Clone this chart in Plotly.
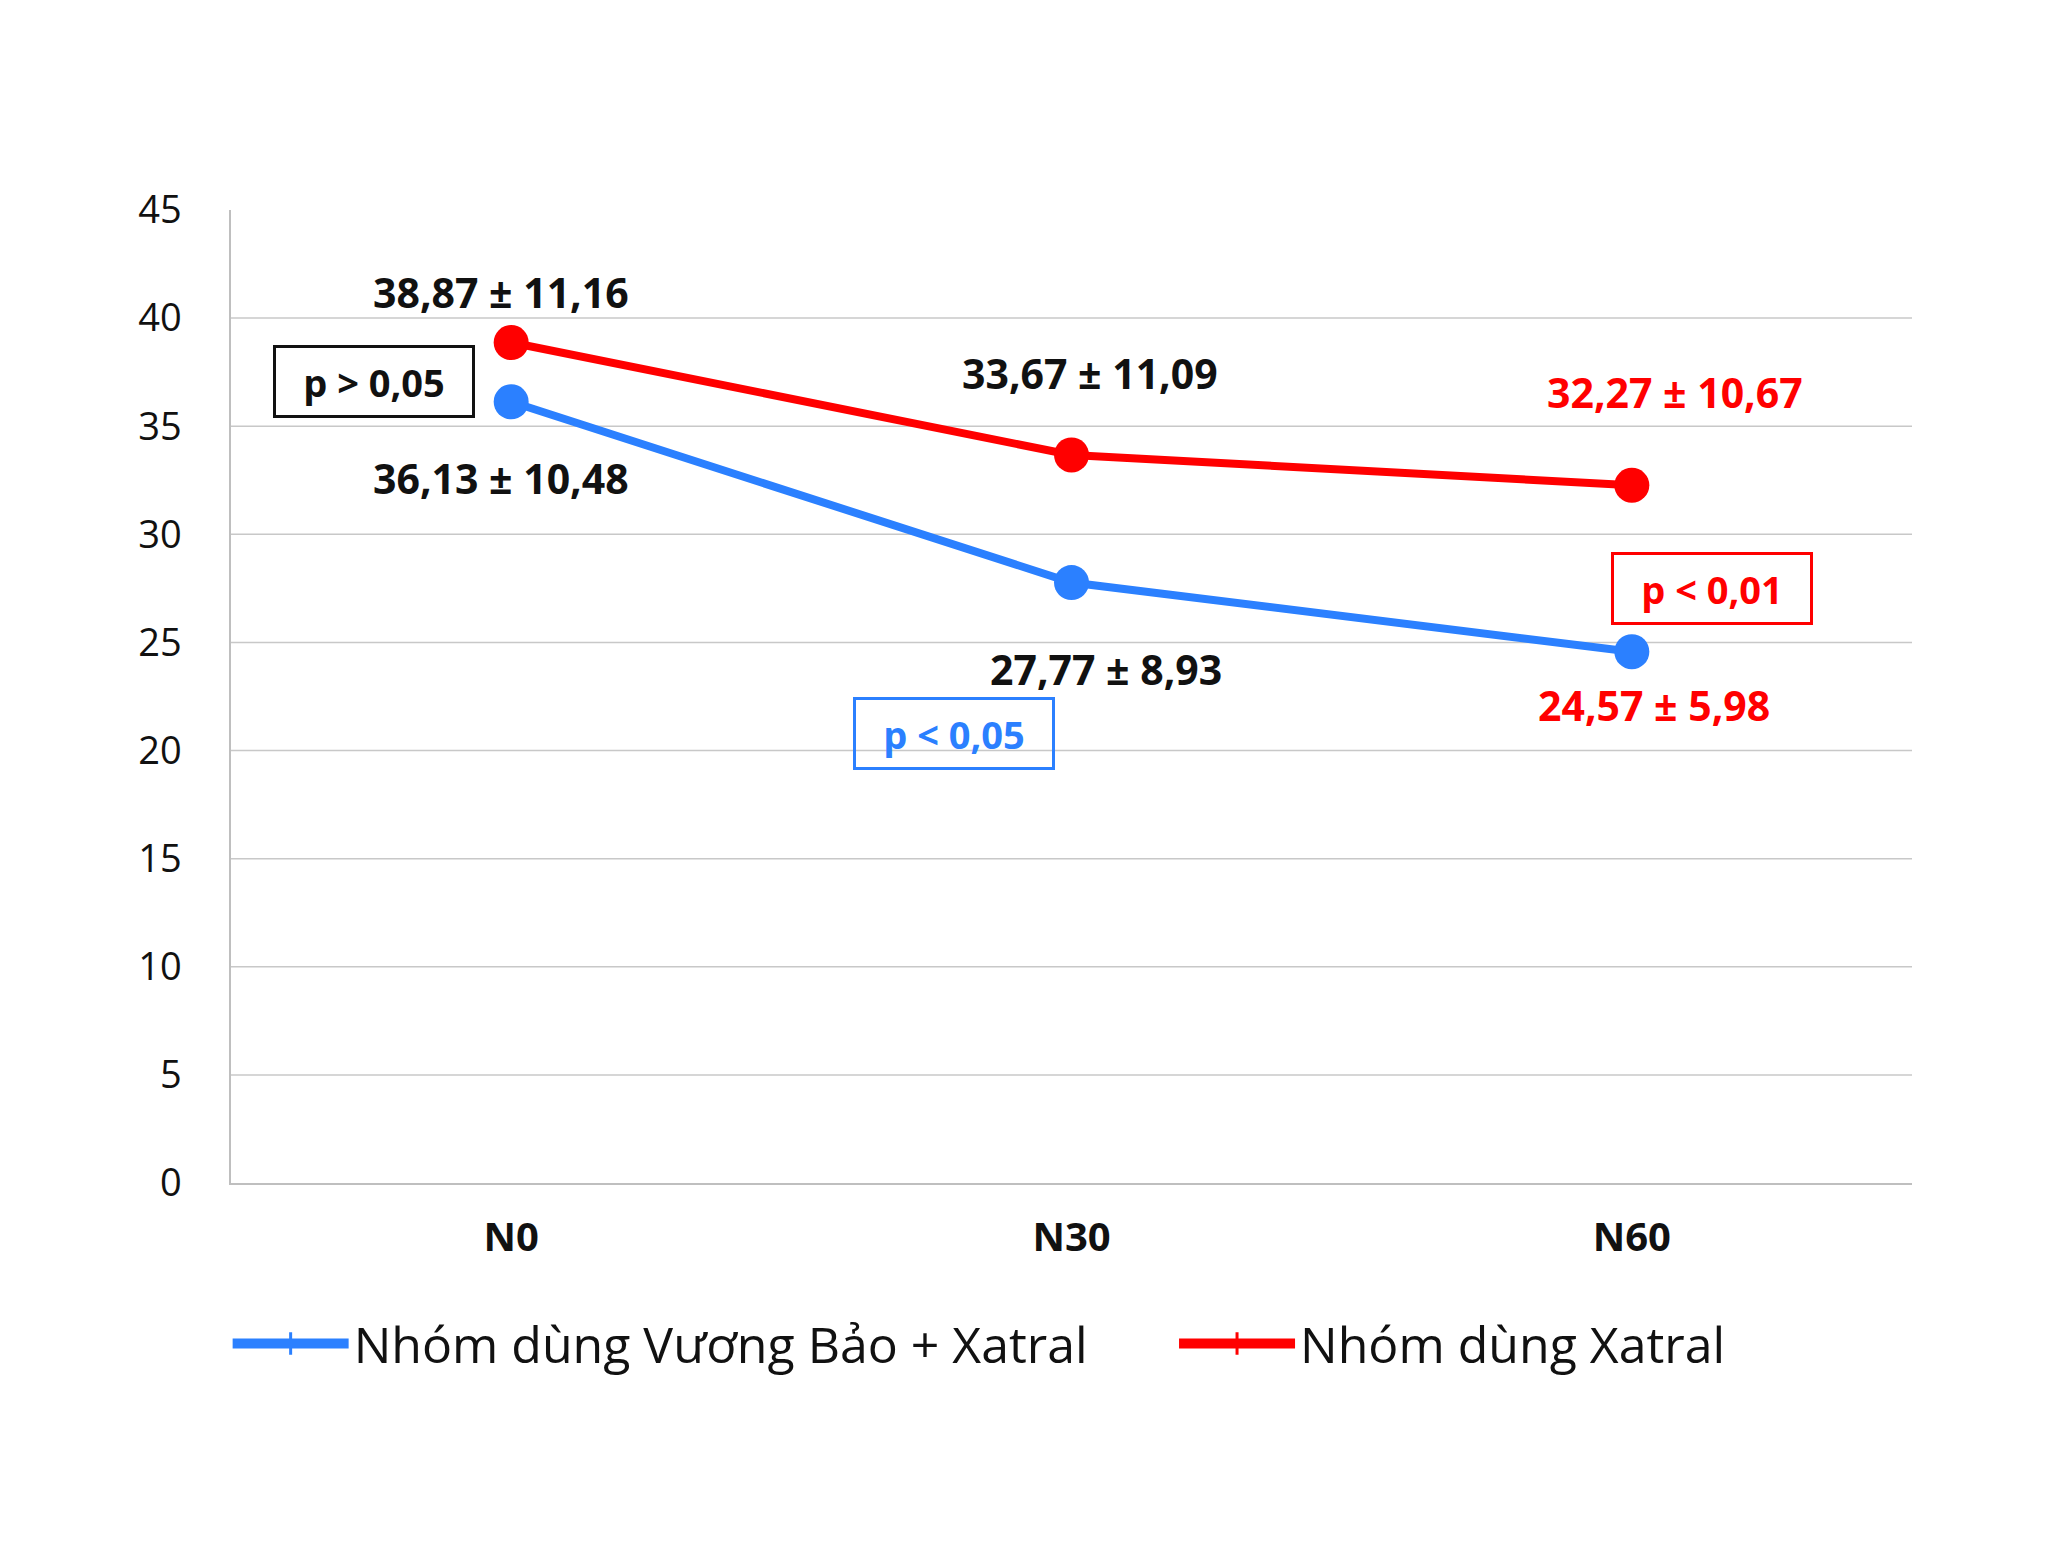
import plotly.graph_objects as go

categories = ["N0", "N30", "N60"]
blue_name = "Nhóm dùng Vương Bảo + Xatral"
red_name = "Nhóm dùng Xatral"
blue_values = [36.13, 27.77, 24.57]
blue_sd = [10.48, 8.93, 5.98]
red_values = [38.87, 33.67, 32.27]
red_sd = [11.16, 11.09, 10.67]
label_colors = ["#111111", "#111111", "#ff0000"]
y_ticks = [0, 5, 10, 15, 20, 25, 30, 35, 40, 45]
grid_values = [5, 10, 15, 20, 25, 30, 35, 40]

p_texts = ["p > 0,05", "p < 0,05", "p < 0,01"]
p_colors = ["#111111", "#2b80ff", "#ff0000"]
p_pos = [(-0.244, 37.05), (0.79, 20.8), (2.143, 27.5)]

BLUE = "#2b80ff"
RED = "#ff0000"
FONT = "Open Sans"


def fmt(v, sd):
    return f"{v:.2f} ± {sd:.2f}".replace(".", ",")


fig = go.Figure()

fig.add_trace(go.Scatter(x=categories, y=blue_values, mode="lines+markers",
                         line=dict(color=BLUE, width=8),
                         marker=dict(color=BLUE, size=35), showlegend=False))
fig.add_trace(go.Scatter(x=categories, y=red_values, mode="lines+markers",
                         line=dict(color=RED, width=8),
                         marker=dict(color=RED, size=35), showlegend=False))

# legend entries
for nm, col, lg in [(blue_name, BLUE, "legend"), (red_name, RED, "legend2")]:
    fig.add_trace(go.Scatter(x=[None], y=[None], mode="lines+markers", name=nm,
                             legend=lg,
                             line=dict(color=col, width=12),
                             marker=dict(symbol="line-ns-open", size=22, color=col,
                                         line=dict(color=col, width=3))))

# gridlines
for g in grid_values:
    fig.add_shape(type="line", xref="paper", x0=0, x1=1, yref="y", y0=g, y1=g,
                  line=dict(color="#c8c8c8", width=1.5), layer="below")

# value labels
red_shift = [(-10, 51), (18, 82), (43, 93)]
blue_shift = [(-10, -76), (34, -86), (22, -53)]
for i, c in enumerate(categories):
    fig.add_annotation(x=i, y=red_values[i], text=f"<b>{fmt(red_values[i], red_sd[i])}</b>",
                       showarrow=False, xshift=red_shift[i][0], yshift=red_shift[i][1],
                       font=dict(family=FONT, size=41, color=label_colors[i]))
    fig.add_annotation(x=i, y=blue_values[i], text=f"<b>{fmt(blue_values[i], blue_sd[i])}</b>",
                       showarrow=False, xshift=blue_shift[i][0], yshift=blue_shift[i][1],
                       font=dict(family=FONT, size=41, color=label_colors[i]))

# p-value boxes
for t, col, (px, py) in zip(p_texts, p_colors, p_pos):
    fig.add_annotation(x=px, y=py, text=f"<b>{t}</b>", showarrow=False,
                       font=dict(family=FONT, size=38, color=col),
                       bordercolor=col, borderwidth=3, borderpad=0,
                       width=196, height=67, bgcolor="rgba(255,255,255,0)")

legend_common = dict(orientation="h", y=-0.165, yanchor="middle",
                     font=dict(family=FONT, size=50, color="#111111"),
                     itemwidth=116, bgcolor="rgba(0,0,0,0)")

fig.update_layout(
    width=2046, height=1545,
    margin=dict(l=231, r=134, t=210, b=362),
    paper_bgcolor="white", plot_bgcolor="white",
    font=dict(family=FONT, color="#111111"),
    legend=dict(x=-0.002, xanchor="left", **legend_common),
    legend2=dict(x=0.561, xanchor="left", **legend_common),
    xaxis=dict(type="category", range=[-0.5, 2.5], showgrid=False,
               showline=True, linecolor="#bfbfbf", linewidth=1.5,
               ticks="", tickfont=dict(family=FONT, size=40, color="#111111", weight="bold"),
               ticklabelstandoff=18, zeroline=False),
    yaxis=dict(range=[0, 45], tickvals=y_ticks, showgrid=False, zeroline=False,
               showline=True, linecolor="#bfbfbf", linewidth=1.5,
               ticks="", tickfont=dict(family=FONT, size=38, color="#111111"),
               ticklabelstandoff=40),
)

fig.write_html("out.html")
